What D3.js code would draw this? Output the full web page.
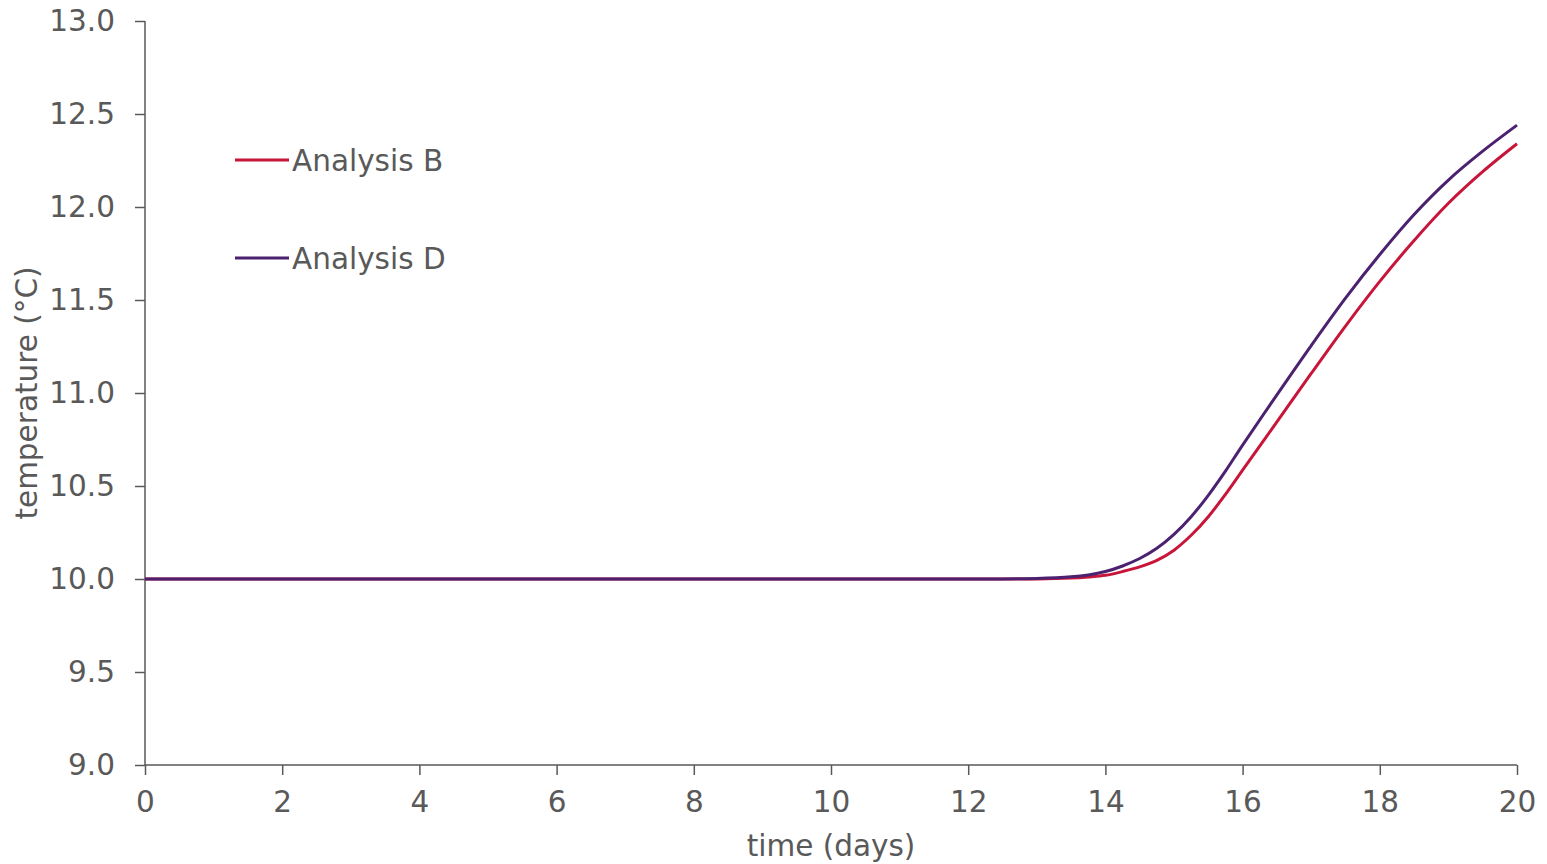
<!DOCTYPE html>
<html>
<head>
<meta charset="utf-8">
<script src="https://cdn.jsdelivr.net/npm/d3@7"></script>
<style>
  body { margin: 0; background: #fff; }
  svg text { font-family: "DejaVu Sans", Verdana, sans-serif; fill: #595959; }
</style>
</head>
<body>
<div id="chart"></div>
<script>
'use strict';

// time in days
const days = [0, 2, 4, 6, 8, 10, 12, 12.5, 13, 13.5, 13.75, 14, 14.25, 14.5, 14.75, 15, 15.25, 15.5, 15.75, 16, 16.5, 17, 17.5, 18, 18.5, 19, 19.5, 20];
// temperature (°C)
const analysisB = [10.0, 10.0, 10.0, 10.0, 10.0, 10.0, 10.0, 10.0, 10.0, 10.005, 10.011, 10.02, 10.04, 10.065, 10.1, 10.155, 10.235, 10.335, 10.455, 10.585, 10.845, 11.105, 11.36, 11.6, 11.82, 12.02, 12.19, 12.34];
const analysisD = [10.0, 10.0, 10.0, 10.0, 10.0, 10.0, 10.0, 10.0, 10.003, 10.012, 10.022, 10.04, 10.07, 10.11, 10.165, 10.24, 10.335, 10.45, 10.58, 10.72, 10.99, 11.255, 11.51, 11.745, 11.96, 12.145, 12.3, 12.44];

const seriesNames = ['Analysis B', 'Analysis D'];
const seriesColors = ['#c8153a', '#4b2170'];
const xTicks = [0, 2, 4, 6, 8, 10, 12, 14, 16, 18, 20];
const yTicks = [9.0, 9.5, 10.0, 10.5, 11.0, 11.5, 12.0, 12.5, 13.0];

const W = 1547, H = 864;
const FONT = 29.5;
const margin = {left: 145, right: 30, top: 21, bottom: 99};

const svg = d3.select('#chart')
    .append('svg')
    .attr('width', W)
    .attr('height', H);

const x = d3.scaleLinear().domain([0, 20]).range([margin.left, W - margin.right]);
const y = d3.scaleLinear().domain([9, 13]).range([H - margin.bottom, margin.top]);

//#region AXES
const xAxis = svg.append('g')
    .attr('transform', `translate(0,${y(9)})`)
    .call(d3.axisBottom(x).tickValues(xTicks).tickSize(10).tickPadding(16).tickFormat(d3.format('d')));

const yAxis = svg.append('g')
    .attr('transform', `translate(${x(0)},0)`)
    .call(d3.axisLeft(y).tickValues(yTicks).tickSize(10).tickPadding(20).tickFormat(d3.format('.1f')));

[xAxis, yAxis].forEach(ax => {
    ax.select('.domain').attr('stroke', '#595959').attr('stroke-width', 1.5);
    ax.selectAll('.tick line').attr('stroke', '#595959').attr('stroke-width', 1.5);
    ax.selectAll('.tick text').attr('font-size', FONT).attr('fill', '#595959');
});
// keep ticks outward only
yAxis.select('.domain').attr('d', `M0,${y(13)}V${y(9)}`);
xAxis.select('.domain').attr('d', `M${x(0)},0H${x(20)}`);

svg.append('text')
    .attr('x', (x(0) + x(20)) / 2)
    .attr('y', 856)
    .attr('text-anchor', 'middle')
    .attr('font-size', FONT)
    .text('time (days)');

svg.append('text')
    .attr('transform', `translate(37,${(y(9) + y(13)) / 2}) rotate(-90)`)
    .attr('text-anchor', 'middle')
    .attr('font-size', FONT)
    .text('temperature (°C)');
//#endregion

//#region LINES
const line = d3.line()
    .x(d => x(d[0]))
    .y(d => y(d[1]))
    .curve(d3.curveCatmullRom.alpha(0.5));

[analysisB, analysisD].forEach((vals, i) => {
    svg.append('path')
        .datum(days.map((d, j) => [d, vals[j]]))
        .attr('fill', 'none')
        .attr('stroke', seriesColors[i])
        .attr('stroke-width', 3)
        .attr('d', line);
});
//#endregion

//#region LEGEND
seriesNames.forEach((name, i) => {
    const ly = 160 + i * 98;
    svg.append('line')
        .attr('x1', 235).attr('x2', 289)
        .attr('y1', ly).attr('y2', ly)
        .attr('stroke', seriesColors[i])
        .attr('stroke-width', 3);
    svg.append('text')
        .attr('x', 292)
        .attr('y', ly + 11)
        .attr('font-size', FONT)
        .text(name);
});
//#endregion
</script>
</body>
</html>
